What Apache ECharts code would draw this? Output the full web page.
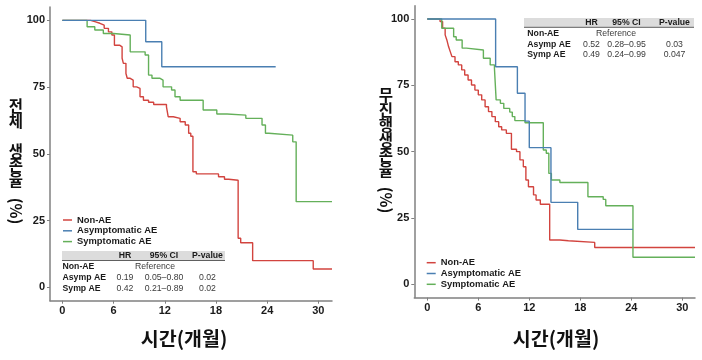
<!DOCTYPE html>
<html>
<head>
<meta charset="utf-8">
<script src="https://cdn.jsdelivr.net/npm/echarts@6/dist/echarts.min.js"></script>
<style>html,body{margin:0;padding:0;background:#fff}#c{width:702px;height:360px}</style>
</head>
<body>
<div id="c"></div>
<script>
// ---- Data ----
const seriesNames = ['Non-AE', 'Asymptomatic AE', 'Symptomatic AE'];
const xTicks = [0, 6, 12, 18, 24, 30];
const yTicks = [0, 25, 50, 75, 100];

// Left panel: overall survival (전체 생존율)
const osNonAeT = [0, 2.9, 3.3, 3.8, 4.4, 4.9, 5.4, 5.8, 6.1, 6.7, 7.0, 7.15, 7.45, 7.6, 7.95, 8.3, 8.7, 9.1, 9.5, 10.1, 10.7, 12.2, 12.4, 13.0, 13.8, 14.4, 14.8, 15.05, 15.3, 15.7, 18.3, 19.0, 19.5, 20.6, 20.9, 22.3, 29.4, 31.6];
const osNonAeS = [100, 100, 99.5, 98.9, 98.2, 97.0, 95.7, 94.5, 90.7, 90.1, 85.8, 83.9, 80.1, 78.3, 77.6, 75.1, 74.5, 71.4, 70.1, 69.3, 68.5, 67.6, 63.9, 63.3, 62.0, 60.8, 57.7, 56.6, 43.3, 42.5, 41.4, 40.5, 40.1, 18.4, 16.7, 10.0, 6.9, 6.9];
const osAsympT = [0, 9.77, 11.65, 25.0];
const osAsympS = [100, 92.0, 82.6, 82.6];
const osSympT = [0, 2.9, 3.8, 4.8, 6.0, 7.95, 9.7, 10.1, 10.5, 11.45, 11.8, 12.8, 13.2, 13.8, 16.5, 18.1, 19.3, 21.5, 23.4, 23.8, 24.2, 27.0, 27.4, 31.6];
const osSympS = [100, 97.6, 96.4, 95.1, 94.5, 88.2, 87.0, 79.5, 78.3, 77.6, 75.1, 73.9, 71.4, 70.1, 66.4, 64.9, 64.5, 63.3, 60.8, 57.7, 57.0, 54.5, 32.1, 32.1];

// Right panel: progression-free survival (무진행생존율)
const pfsNonAeT = [0, 1.5, 1.8, 2.1, 2.3, 2.5, 2.7, 2.9, 3.26, 3.65, 4.05, 4.4, 4.8, 5.2, 5.6, 6.0, 6.4, 6.8, 7.2, 7.6, 8.0, 8.4, 8.75, 9.3, 9.9, 10.5, 10.9, 11.3, 11.6, 11.9, 12.5, 12.8, 13.3, 14.4, 15.6, 16.6, 19.7, 31.5];
const pfsNonAeS = [100, 99.0, 96.5, 94.0, 92.1, 89.6, 87.7, 85.8, 83.9, 82.7, 80.8, 78.9, 77.0, 75.1, 73.2, 71.4, 69.5, 66.9, 65.1, 63.2, 61.3, 59.4, 58.2, 56.9, 50.9, 50.0, 46.9, 44.3, 39.3, 36.8, 33.7, 31.8, 30.2, 16.7, 16.4, 15.8, 13.9, 13.9];
const pfsAsympT = [0, 8.04, 10.6, 11.5, 12.0, 14.55, 17.7, 24.2];
const pfsAsympS = [100, 82.0, 72.0, 61.5, 51.5, 30.9, 20.7, 20.7];
const pfsSympT = [0, 1.7, 3.1, 3.4, 4.1, 4.6, 6.6, 7.4, 7.9, 8.1, 8.6, 9.0, 9.7, 10.0, 10.3, 11.5, 13.65, 14.0, 14.3, 14.6, 15.6, 18.9, 20.7, 21.0, 24.2, 31.5];
const pfsSympS = [100, 96.5, 93.3, 92.1, 89.0, 88.3, 85.2, 82.7, 81.4, 69.5, 68.2, 66.3, 64.9, 63.2, 61.7, 60.9, 50.6, 49.4, 41.8, 39.3, 38.4, 33.0, 32.0, 29.6, 10.2, 10.2];

// Hazard-ratio tables
const tableHeader = ['HR', '95% CI', 'P-value'];
const tableRows = ['Non-AE', 'Asymp AE', 'Symp AE'];
const osHR = ['0.19', '0.42'];
const osCI = ['0.05\u20130.80', '0.21\u20130.89'];
const osP = ['0.02', '0.02'];
const pfsHR = ['0.52', '0.49'];
const pfsCI = ['0.28\u20130.95', '0.24\u20130.99'];
const pfsP = ['0.03', '0.047'];

// ---- Chart ----
const colors = { 'Non-AE': '#d2443f', 'Asymptomatic AE': '#4a7fb2', 'Symptomatic AE': '#64b05a' };
const FONT = '"Liberation Sans", Arial, sans-serif';
const KFONT = '"Noto Sans CJK KR", sans-serif';

function pairs(t, s) { return t.map((x, i) => [x, s[i]]); }

function axisX(idx, min, max, margin) {
  return {
    type: 'value', gridIndex: idx, min: min, max: max,
    axisLine: { show: true, onZero: false, lineStyle: { color: '#808080', width: 1.5 } },
    axisTick: { show: true, length: 3, customValues: xTicks, lineStyle: { color: '#808080' } },
    axisLabel: { customValues: xTicks, margin: margin, color: '#1a1a1a', fontFamily: FONT, fontWeight: 'bold', fontSize: 11 },
    splitLine: { show: false }
  };
}
function axisY(idx, margin) {
  return {
    type: 'value', gridIndex: idx, min: -5, max: 105,
    axisLine: { show: true, onZero: false, lineStyle: { color: '#808080', width: 1.5 } },
    axisTick: { show: true, length: 3, customValues: yTicks, lineStyle: { color: '#808080' } },
    axisLabel: { customValues: yTicks, margin: margin, color: '#1a1a1a', fontFamily: FONT, fontWeight: 'bold', fontSize: 11 },
    splitLine: { show: false }
  };
}
function line(name, idx, t, s) {
  return {
    name: name, type: 'line', xAxisIndex: idx, yAxisIndex: idx, step: 'end',
    symbol: 'none', showSymbol: false, animation: false,
    color: colors[name], lineStyle: { width: 1.4, color: colors[name] },
    data: pairs(t, s)
  };
}
function legend(left, top) {
  return {
    data: seriesNames, orient: 'vertical', left: left, top: top, padding: 0, itemGap: 0,
    icon: 'rect', itemWidth: 9, itemHeight: 1.5, selectedMode: false,
    textStyle: { fontFamily: FONT, fontWeight: 'bold', fontSize: 9.4, color: '#1a1a1a', lineHeight: 10.8 }
  };
}
function txt(x, y, s, opts) {
  return Object.assign({ type: 'text', x: x, y: y, silent: true,
    style: Object.assign({ text: s, fontFamily: FONT, fontSize: 8.7, fill: '#1a1a1a',
      textAlign: 'center', textVerticalAlign: 'middle' }, opts || {}) });
}
function table(x0, x1, bandTop, bandBot, colX, refX, rowY, labelX, hr, ci, p) {
  const els = [
    { type: 'rect', silent: true, shape: { x: x0, y: bandTop, width: x1 - x0, height: bandBot - bandTop }, style: { fill: '#dcdcdc' } },
    { type: 'line', silent: true, shape: { x1: x0, y1: bandBot, x2: x1, y2: bandBot }, style: { stroke: '#606060', lineWidth: 1 } }
  ];
  const hy = (bandTop + bandBot) / 2;
  tableHeader.forEach((h, i) => els.push(txt(colX[i], hy, h, { fontWeight: 'bold' })));
  tableRows.forEach((r, i) => els.push(txt(labelX, rowY[i], r, { fontWeight: 'bold', textAlign: 'left' })));
  els.push(txt(refX, rowY[0], 'Reference', { fill: '#3a3a3a' }));
  for (let i = 0; i < 2; i++) {
    els.push(txt(colX[0], rowY[i + 1], hr[i], { fill: '#3a3a3a' }));
    els.push(txt(colX[1], rowY[i + 1], ci[i], { fill: '#3a3a3a' }));
    els.push(txt(colX[2], rowY[i + 1], p[i], { fill: '#3a3a3a' }));
  }
  return els;
}
function vtitle(cx, ys, chars, pctY) {
  const els = [];
  chars.forEach((c, i) => {
    els.push({ type: 'text', silent: true, x: cx, y: ys[i],
      style: { text: c, fontFamily: KFONT, fontWeight: 'bold', fontSize: 15.5, fill: '#111', textAlign: 'center', textVerticalAlign: 'middle' } });
  });
  els.push({ type: 'text', silent: true, x: cx, y: pctY, rotation: -Math.PI / 2,
    style: { text: '(%)', fontFamily: KFONT, fontWeight: 'bold', fontSize: 15.5, fill: '#111', textAlign: 'center', textVerticalAlign: 'middle' } });
  return els;
}

const graphics = []
  .concat(vtitle(16, [106.5, 121, 151, 165.5, 180.5], ['전', '체', '생', '존', '율'], 211))
  .concat(vtitle(386, [95, 110, 125, 140, 155, 170.5], ['무', '진', '행', '생', '존', '율'], 200))
  .concat([
    { type: 'text', silent: true, x: 184, y: 339, style: { text: '시간(개월)', fontFamily: KFONT, fontWeight: 'bold', fontSize: 19.5, fill: '#111', textAlign: 'center', textVerticalAlign: 'middle' } },
    { type: 'text', silent: true, x: 556, y: 339, style: { text: '시간(개월)', fontFamily: KFONT, fontWeight: 'bold', fontSize: 19.5, fill: '#111', textAlign: 'center', textVerticalAlign: 'middle' } }
  ])
  .concat(table(62, 225, 251, 260.5, [125, 164, 207.5], 155, [266.8, 277.7, 288.6], 62.5, osHR, osCI, osP))
  .concat(table(524, 694, 18, 27.3, [591.5, 626.5, 674.5], 616, [34, 44.5, 55], 527.3, pfsHR, pfsCI, pfsP));

const option = {
  animation: false,
  backgroundColor: '#ffffff',
  grid: [
    { left: 50, right: 370, top: 7, bottom: 59.3, containLabel: false },
    { left: 414.3, right: 7, top: 5.7, bottom: 62.4, containLabel: false }
  ],
  xAxis: [axisX(0, -1.45, 31.6, 5), axisX(1, -1.53, 31.5, 5)],
  yAxis: [axisY(0, 5), axisY(1, 5)],
  legend: [legend(63, 214.6), legend(426.7, 257.3)],
  series: [
    line('Non-AE', 0, osNonAeT, osNonAeS),
    line('Symptomatic AE', 0, osSympT, osSympS),
    line('Asymptomatic AE', 0, osAsympT, osAsympS),
    line('Non-AE', 1, pfsNonAeT, pfsNonAeS),
    line('Symptomatic AE', 1, pfsSympT, pfsSympS),
    line('Asymptomatic AE', 1, pfsAsympT, pfsAsympS)
  ],
  graphic: graphics
};
const chart = echarts.init(document.getElementById('c'), null, { renderer: 'canvas' });
chart.setOption(option);
</script>
</body>
</html>
